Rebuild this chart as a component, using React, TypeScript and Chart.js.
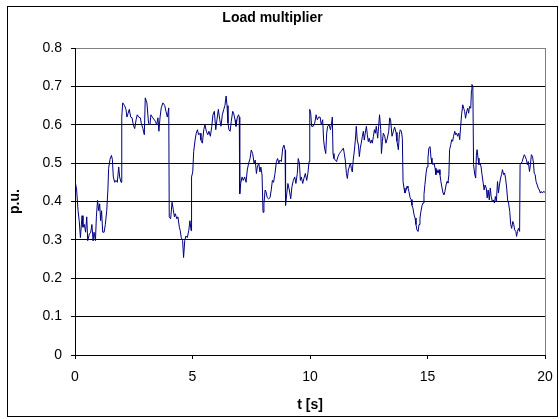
import React, { useEffect, useRef } from "react";
import { Chart, registerables } from "chart.js";

Chart.register(...registerables);

const chartTitle = "Load multiplier";
const xTitle = "t [s]";
const yTitle = "p.u.";
const xTickValues = [0, 5, 10, 15, 20];
const yTickValues = [0, 0.1, 0.2, 0.3, 0.4, 0.5, 0.6, 0.7, 0.8];

const timeValues = [
  0.0, 0.07, 0.13, 0.18, 0.23, 0.3, 0.34, 0.4, 0.45, 0.5, 0.54, 0.61, 0.67, 0.72, 0.77, 0.81, 0.87, 0.91, 0.96, 1.01,
  1.05, 1.09, 1.13, 1.18, 1.24, 1.29, 1.35, 1.4, 1.43, 1.49, 1.55, 1.59, 1.63, 1.69, 1.74, 1.8, 1.86, 1.9, 1.96, 1.99,
  2.03, 2.11, 2.17, 2.21, 2.26, 2.31, 2.37, 2.43, 2.48, 2.54, 2.6, 2.65, 2.71, 2.78, 2.82, 2.89, 2.95, 2.99, 3.06, 3.13,
  3.19, 3.23, 3.29, 3.42, 3.475, 3.53, 3.57, 3.62, 3.67, 3.74, 3.82, 3.87, 3.93, 3.99, 4.01, 4.07, 4.13, 4.18, 4.23, 4.27,
  4.33, 4.38, 4.44, 4.48, 4.52, 4.58, 4.62, 4.67, 4.72, 4.78, 4.84, 4.89, 4.94, 4.96, 5.01, 5.05, 5.11, 5.16, 5.21, 5.26,
  5.32, 5.36, 5.42, 5.48, 5.53, 5.59, 5.65, 5.7, 5.76, 5.82, 5.87, 5.93, 5.99, 6.04, 6.1, 6.16, 6.21, 6.27, 6.33, 6.38,
  6.43, 6.47, 6.51, 6.55, 6.6, 6.65, 6.71, 6.75, 6.81, 6.85, 6.91, 6.96, 6.99, 7.01, 7.05, 7.11, 7.16, 7.22, 7.28, 7.33,
  7.39, 7.45, 7.5, 7.56, 7.62, 7.67, 7.72, 7.76, 7.82, 7.87, 7.91, 7.96, 8.0, 8.04, 8.09, 8.13, 8.18, 8.24, 8.3, 8.35,
  8.4, 8.45, 8.51, 8.57, 8.62, 8.67, 8.72, 8.78, 8.84, 8.89, 8.94, 8.96, 9.01, 9.06, 9.12, 9.18, 9.23, 9.29, 9.35, 9.4,
  9.46, 9.5, 9.55, 9.59, 9.63, 9.69, 9.74, 9.8, 9.86, 9.91, 9.96, 9.99, 10.03, 10.07, 10.14, 10.2, 10.26, 10.31, 10.37, 10.43,
  10.48, 10.54, 10.58, 10.62, 10.67, 10.71, 10.75, 10.81, 10.87, 10.91, 10.95, 10.98, 11.02, 11.08, 11.13, 11.19, 11.25, 11.31, 11.36, 11.42,
  11.46, 11.5, 11.55, 11.59, 11.63, 11.67, 11.72, 11.76, 11.8, 11.84, 11.89, 11.93, 11.97, 12.01, 12.06, 12.1, 12.14, 12.18, 12.23, 12.27,
  12.31, 12.35, 12.4, 12.44, 12.48, 12.52, 12.57, 12.61, 12.65, 12.7, 12.74, 12.78, 12.82, 12.88, 12.92, 12.96, 13.01, 13.04, 13.08, 13.12,
  13.18, 13.23, 13.29, 13.35, 13.39, 13.43, 13.49, 13.55, 13.6, 13.66, 13.7, 13.76, 13.8, 13.84, 13.89, 13.93, 13.96, 14.0, 14.04, 14.09,
  14.13, 14.17, 14.21, 14.26, 14.3, 14.34, 14.38, 14.43, 14.47, 14.51, 14.55, 14.6, 14.64, 14.68, 14.72, 14.77, 14.81, 14.85, 14.89, 14.94,
  14.98, 15.02, 15.06, 15.11, 15.15, 15.19, 15.23, 15.28, 15.32, 15.36, 15.4, 15.45, 15.49, 15.53, 15.57, 15.62, 15.66, 15.7, 15.74, 15.79,
  15.83, 15.87, 15.91, 15.94, 15.99, 16.03, 16.07, 16.11, 16.16, 16.2, 16.24, 16.28, 16.33, 16.37, 16.41, 16.45, 16.5, 16.54, 16.58, 16.62,
  16.67, 16.71, 16.75, 16.79, 16.84, 16.87, 16.89, 16.93, 16.96, 17.01, 17.05, 17.08, 17.11, 17.15, 17.19, 17.24, 17.28, 17.32, 17.37, 17.41,
  17.45, 17.5, 17.54, 17.58, 17.63, 17.67, 17.71, 17.76, 17.8, 17.85, 17.89, 17.93, 17.98, 18.02, 18.06, 18.11, 18.15, 18.19, 18.24, 18.28,
  18.32, 18.37, 18.41, 18.45, 18.5, 18.54, 18.58, 18.63, 18.67, 18.71, 18.76, 18.79, 18.83, 18.87, 18.92, 18.94, 18.99, 19.03, 19.07, 19.12,
  19.16, 19.21, 19.25, 19.29, 19.34, 19.38, 19.42, 19.47, 19.51, 19.54, 19.58, 19.62, 19.67, 19.71, 19.76, 19.8, 19.84, 19.89, 19.93, 20.0,
];

const loadValues = [
  0.455, 0.43, 0.376, 0.35, 0.306, 0.363, 0.333, 0.34, 0.32, 0.36, 0.298, 0.315, 0.32, 0.34, 0.297, 0.32, 0.298, 0.36, 0.403, 0.376,
  0.394, 0.35, 0.376, 0.32, 0.32, 0.34, 0.376, 0.43, 0.486, 0.51, 0.52, 0.51, 0.464, 0.45, 0.455, 0.45, 0.49, 0.464, 0.45, 0.62,
  0.657, 0.65, 0.64, 0.62, 0.63, 0.64, 0.62, 0.618, 0.6, 0.59, 0.613, 0.626, 0.62, 0.618, 0.604, 0.59, 0.574, 0.67, 0.657, 0.604,
  0.6, 0.626, 0.62, 0.609, 0.6, 0.618, 0.583, 0.62, 0.644, 0.657, 0.65, 0.635, 0.62, 0.644, 0.36, 0.355, 0.398, 0.38, 0.36, 0.368,
  0.355, 0.36, 0.333, 0.324, 0.306, 0.298, 0.254, 0.298, 0.31, 0.306, 0.324, 0.35, 0.324, 0.464, 0.477, 0.53, 0.56, 0.578, 0.587, 0.574,
  0.578, 0.56, 0.552, 0.587, 0.6, 0.583, 0.574, 0.583, 0.57, 0.596, 0.626, 0.635, 0.587, 0.613, 0.64, 0.613, 0.596, 0.626, 0.64, 0.65,
  0.675, 0.65, 0.604, 0.587, 0.583, 0.609, 0.635, 0.63, 0.613, 0.596, 0.62, 0.626, 0.62, 0.42, 0.447, 0.464, 0.455, 0.464, 0.45, 0.482,
  0.5, 0.512, 0.534, 0.525, 0.5, 0.508, 0.473, 0.49, 0.5, 0.477, 0.49, 0.469, 0.372, 0.394, 0.43, 0.425, 0.41, 0.407, 0.41, 0.43,
  0.455, 0.45, 0.473, 0.504, 0.512, 0.5, 0.508, 0.504, 0.539, 0.547, 0.534, 0.39, 0.42, 0.447, 0.43, 0.407, 0.438, 0.455, 0.464, 0.447,
  0.473, 0.512, 0.5, 0.455, 0.464, 0.447, 0.46, 0.473, 0.455, 0.473, 0.504, 0.64, 0.63, 0.596, 0.596, 0.604, 0.626, 0.613, 0.62, 0.62,
  0.6, 0.613, 0.56, 0.539, 0.525, 0.578, 0.596, 0.6, 0.587, 0.6, 0.62, 0.525, 0.512, 0.508, 0.504, 0.517, 0.525, 0.53, 0.534, 0.539,
  0.525, 0.508, 0.473, 0.46, 0.482, 0.49, 0.5, 0.486, 0.477, 0.508, 0.534, 0.56, 0.596, 0.56, 0.547, 0.517, 0.539, 0.552, 0.57, 0.583,
  0.56, 0.578, 0.596, 0.574, 0.556, 0.565, 0.552, 0.56, 0.552, 0.57, 0.587, 0.578, 0.596, 0.565, 0.596, 0.626, 0.587, 0.525, 0.556, 0.578,
  0.57, 0.552, 0.565, 0.583, 0.618, 0.613, 0.57, 0.583, 0.594, 0.58, 0.557, 0.535, 0.574, 0.587, 0.583, 0.565, 0.452, 0.435, 0.422, 0.43,
  0.44, 0.435, 0.426, 0.41, 0.405, 0.39, 0.383, 0.365, 0.357, 0.34, 0.326, 0.322, 0.34, 0.357, 0.374, 0.39, 0.396, 0.418, 0.444, 0.474,
  0.49, 0.513, 0.54, 0.543, 0.513, 0.5, 0.496, 0.5, 0.487, 0.47, 0.483, 0.474, 0.483, 0.47, 0.452, 0.435, 0.422, 0.418, 0.426, 0.443,
  0.452, 0.448, 0.47, 0.535, 0.548, 0.561, 0.557, 0.57, 0.583, 0.574, 0.578, 0.57, 0.578, 0.561, 0.596, 0.626, 0.652, 0.643, 0.635, 0.617,
  0.635, 0.643, 0.63, 0.648, 0.643, 0.69, 0.705, 0.7, 0.496, 0.47, 0.461, 0.52, 0.535, 0.513, 0.496, 0.5, 0.49, 0.47, 0.448, 0.43,
  0.443, 0.435, 0.409, 0.43, 0.404, 0.435, 0.413, 0.4, 0.404, 0.396, 0.413, 0.4, 0.452, 0.422, 0.443, 0.461, 0.47, 0.483, 0.47, 0.474,
  0.461, 0.435, 0.404, 0.396, 0.374, 0.34, 0.33, 0.348, 0.34, 0.326, 0.322, 0.309, 0.322, 0.33, 0.322, 0.496, 0.5, 0.504, 0.513, 0.522,
  0.517, 0.509, 0.496, 0.504, 0.478, 0.496, 0.522, 0.517, 0.5, 0.474, 0.47, 0.452, 0.443, 0.435, 0.43, 0.422, 0.426, 0.422, 0.426, 0.424,
];

const FONT = "'Liberation Sans', Arial, Helvetica, sans-serif";

const frameBorder = {
  id: "frameBorder",
  beforeDraw(chart: any) {
    const ctx = chart.ctx;
    ctx.save();
    ctx.fillStyle = "#ffffff";
    ctx.fillRect(0, 0, chart.width, chart.height);
    ctx.strokeStyle = "#000000";
    ctx.lineWidth = 1;
    ctx.strokeRect(7.5, 6.5, 550, 410);
    ctx.restore();
  },
};

export default function App() {
  const ref = useRef<HTMLCanvasElement | null>(null);

  useEffect(() => {
    if (!ref.current) return;
    const points = timeValues.map((t, i) => ({ x: t, y: loadValues[i] }));
    const chart = new Chart(ref.current, {
      type: "line",
      data: {
        datasets: [
          {
            label: "Load multiplier",
            data: points,
            borderColor: "#000080",
            borderWidth: 1,
            pointRadius: 0,
            tension: 0,
            fill: false,
          },
        ],
      },
      options: {
        animation: false,
        responsive: false,
        events: [],
        layout: { padding: { left: 0, right: 14, top: 0, bottom: 0 } },
        plugins: {
          legend: { display: false },
          tooltip: { enabled: false },
          title: {
            display: true,
            text: chartTitle,
            color: "#000",
            font: { family: FONT, size: 14, weight: "bold", lineHeight: 1.2 },
            padding: { top: 9.6, bottom: 21.6 },
          },
        },
        scales: {
          x: {
            type: "linear",
            min: 0,
            max: 20,
            afterBuildTicks: (scale: any) => {
              scale.ticks = xTickValues.map((v) => ({ value: v }));
            },
            afterFit: (scale: any) => {
              scale.height = 64;
              scale.paddingLeft = 0;
              scale.paddingRight = 0;
            },
            ticks: {
              color: "#000",
              font: { family: FONT, size: 14 },
              padding: 10,
              maxRotation: 0,
            },
            grid: {
              drawOnChartArea: true,
              color: (ctx: any) => (ctx.tick && ctx.tick.value === 20 ? "#808080" : "rgba(0,0,0,0)"),
              tickColor: "#000",
              tickLength: 4,
              lineWidth: 1,
            },
            border: { display: true, color: "#000", width: 1 },
            title: {
              display: true,
              text: xTitle,
              color: "#000",
              font: { family: FONT, size: 14, weight: "bold", lineHeight: 1.2 },
              padding: { top: 0, bottom: 5.6 },
            },
          },
          y: {
            type: "linear",
            min: 0,
            max: 0.8,
            afterBuildTicks: (scale: any) => {
              scale.ticks = yTickValues.map((v) => ({ value: v }));
            },
            afterFit: (scale: any) => {
              scale.width = 75;
            },
            ticks: {
              color: "#000",
              font: { family: FONT, size: 14 },
              padding: 9,
              callback: (v: any) => String(Math.round(Number(v) * 10) / 10),
            },
            grid: {
              color: (ctx: any) => (ctx.tick && Math.abs(ctx.tick.value - 0.8) < 1e-9 ? "#808080" : "#000"),
              tickColor: "#000",
              tickLength: 4,
              lineWidth: 1,
            },
            border: { display: true, color: "#000", width: 1 },
            title: {
              display: true,
              text: yTitle,
              color: "#000",
              font: { family: FONT, size: 14, weight: "bold", lineHeight: 1.2 },
              padding: { top: 6.6, bottom: 0 },
            },
          },
        },
      },
      plugins: [frameBorder],
    });
    return () => chart.destroy();
  }, []);

  return (
    <div style={{ position: "fixed", left: 0, top: 0, width: 559, height: 419, background: "#fff" }}>
      <canvas ref={ref} width={559} height={419} style={{ width: 559, height: 419, display: "block" }} />
    </div>
  );
}
